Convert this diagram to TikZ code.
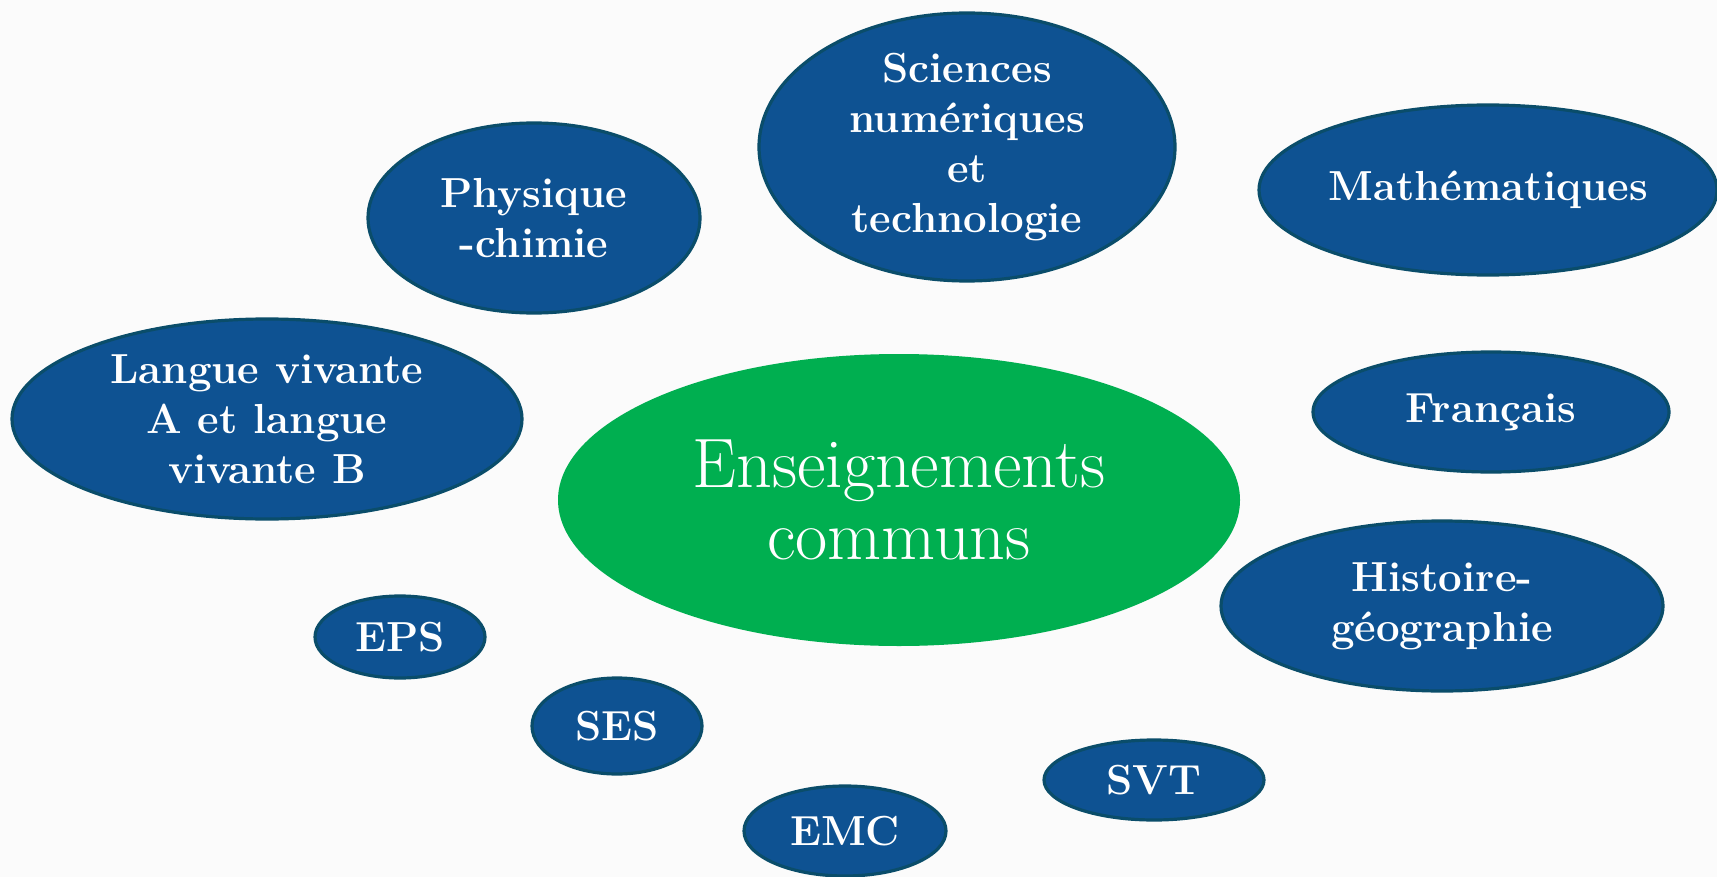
\documentclass[tikz,border=0pt]{standalone}
\usetikzlibrary{shapes.geometric}
\definecolor{bluefill}{HTML}{0E5292}
\definecolor{blueedge}{HTML}{0A4D6A}
\definecolor{greenfill}{HTML}{00AF50}
\definecolor{bgcol}{HTML}{FBFBFB}
\tikzset{
  subj/.style={ellipse, fill=bluefill, draw=blueedge, line width=1.6pt, inner sep=0pt,
    text=white, align=center, font=\bfseries\fontsize{21}{25}\selectfont},
  core/.style={ellipse, fill=greenfill, draw=none, inner sep=0pt,
    text=white, align=center, font=\fontsize{35}{36}\selectfont}
}
\begin{document}
\begin{tikzpicture}[x=0.5pt,y=-0.5pt]
\fill[bgcol] (0,0) rectangle (1717,877);
\useasboundingbox (0,0) rectangle (1717,877);
\node[subj, minimum width=166pt, minimum height=95pt] (pc) at (534,218) {Physique\\-chimie};
\node[subj, minimum width=208pt, minimum height=134pt] (sn) at (967,147) {Sciences\\numériques\\et\\technologie};
\node[subj, minimum width=229pt, minimum height=85pt] (ma) at (1488,190) {Mathématiques};
\node[subj, minimum width=255pt, minimum height=100pt] (lv) at (267,419) {Langue vivante\\A et langue\\vivante B};
\node[core, minimum width=341pt, minimum height=146pt] (ec) at (899,500) {Enseignements\\communs};
\node[subj, minimum width=178pt, minimum height=60pt] (fr) at (1491,412) {Français};
\node[subj, minimum width=221pt, minimum height=85pt] (hg) at (1442,606) {Histoire-\\géographie};
\node[subj, minimum width=85pt, minimum height=41pt] (eps) at (400,637) {EPS};
\node[subj, minimum width=85pt, minimum height=48pt] (ses) at (617,726) {SES};
\node[subj, minimum width=110pt, minimum height=40pt] (svt) at (1154,780) {SVT};
\node[subj, minimum width=101pt, minimum height=45pt] (emc) at (845,831) {EMC};
\end{tikzpicture}
\end{document}
